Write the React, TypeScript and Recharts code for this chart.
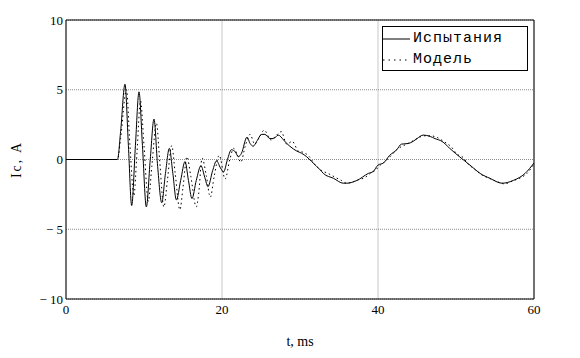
import React from "react";
import { LineChart, Line, XAxis, YAxis, CartesianGrid, ReferenceArea, Label } from "recharts";

const xTicks = [0, 20, 40, 60];
const yTicks = [-10, -5, 0, 5, 10];
const seriesNames = ["Испытания", "Модель"];

const testT = [0, 6.6, 7.0, 7.56, 8.0, 8.42, 8.9, 9.36, 9.8, 10.3, 10.8, 11.28, 11.75, 12.27, 12.75, 13.25, 13.7, 14.15, 14.7, 15.26, 15.7, 16.15, 16.7, 17.3, 17.8, 18.2, 18.8, 19.3, 19.8, 20.2, 20.7, 21.2, 21.7, 22.1, 22.5, 23.2, 23.6, 24.0, 24.45, 25.1, 25.5, 26.15, 26.6, 27.2, 27.9, 28.3, 28.7, 29.6, 30.2, 30.85, 31.5, 32.6, 33.0, 34.3, 35.55, 36.0, 37.3, 38.75, 39.4, 40.0, 40.7, 41.5, 42.4, 43.0, 43.9, 44.5, 45.0, 45.8, 46.7, 47.3, 48.2, 49.2, 49.9, 50.9, 52.0, 53.1, 54.35, 55.9, 57.35, 58.85, 60];
const testI = [0, 0, 2.0, 5.4, 1.0, -3.3, 1.0, 4.85, 1.0, -3.4, 0, 2.9, -0.5, -3.1, -1.0, 0.8, -1.0, -2.9, -1.5, -0.15, -1.5, -2.8, -1.5, -0.45, -1.3, -1.95, -0.8, -0.1, -0.6, -0.9, 0.0, 0.7, 0.55, 0.2, 0.45, 1.6, 1.15, 0.95, 1.3, 1.8, 1.8, 1.5, 1.5, 1.75, 1.4, 1.15, 0.95, 0.6, 0.45, 0.2, -0.15, -0.75, -1.0, -1.35, -1.7, -1.7, -1.5, -1.0, -0.85, -0.4, -0.25, 0.3, 0.7, 1.1, 1.15, 1.3, 1.5, 1.75, 1.65, 1.5, 1.3, 0.8, 0.45, 0.0, -0.5, -1.0, -1.35, -1.7, -1.5, -1.0, -0.25];

const modelT = [0, 6.6, 7.0, 7.75, 8.2, 8.7, 9.1, 9.55, 10.0, 10.55, 11.0, 11.6, 12.0, 12.55, 13.0, 13.55, 14.0, 14.6, 15.0, 15.5, 16.0, 16.7, 17.0, 17.45, 18.0, 18.5, 19.0, 19.65, 20.4, 21.0, 21.5, 22.0, 22.4, 23.0, 23.6, 24.2, 24.8, 25.4, 26.3, 26.9, 27.6, 28.3, 29.0, 29.8, 30.5, 31.2, 31.8, 32.8, 33.6, 34.6, 35.3, 36.0, 36.8, 37.5, 38.3, 39.0, 39.6, 40.3, 41.0, 41.8, 42.5, 43.3, 44.2, 45.0, 45.9, 46.7, 47.5, 48.4, 49.4, 50.1, 51.0, 51.5, 52.3, 53.3, 54.5, 55.6, 56.2, 57.2, 58.3, 59.1, 60];
const modelI = [0, 0, 1.5, 5.0, 1.0, -2.6, 0.5, 4.2, 1.0, -3.0, -0.5, 2.6, 0, -3.4, -1.5, 1.0, -1.0, -3.6, -2.0, 0.2, -1.2, -3.4, -2.5, 0.1, -1.2, -2.7, -1.2, 0.3, -1.4, 0.0, 0.8, 0.3, -0.2, 1.0, 1.8, 1.1, 1.6, 2.1, 1.4, 1.7, 2.0, 1.1, 1.3, 0.6, 0.5, 0.2, -0.3, -0.8, -1.0, -1.3, -1.5, -1.7, -1.6, -1.45, -1.3, -1.0, -0.8, -0.4, -0.1, 0.35, 0.75, 1.0, 1.25, 1.5, 1.7, 1.7, 1.6, 1.3, 0.9, 0.4, 0.1, -0.3, -0.65, -1.1, -1.4, -1.65, -1.75, -1.55, -1.3, -1.0, -0.3];

const testData = testT.map((t, i) => ({ t, v: testI[i] }));
const modelData = modelT.map((t, i) => ({ t, v: modelI[i] }));

const fmtY = (v: number) => (v < 0 ? "\u2212 " + Math.abs(v) : String(v));

const SERIF = "'Liberation Serif', 'Times New Roman', serif";
const MONO = "'Liberation Mono', 'DejaVu Sans Mono', monospace";

const LegendBox = () => (
  <div
    style={{
      position: "absolute",
      left: 382,
      top: 26,
      border: "1px solid #000",
      background: "#fff",
      width: 146,
      height: 45,
      fontFamily: MONO,
      fontSize: 15,
      letterSpacing: 1,
      color: "#000",
      boxSizing: "border-box",
    }}
  >
    {seriesNames.map((n, i) => (
      <div key={n} style={{ display: "flex", alignItems: "center", height: 21, marginTop: i === 0 ? 1 : 0 }}>
        <svg width={28} height={10} style={{ display: "block" }}>
          <line
            x1={0}
            y1={5}
            x2={27}
            y2={5}
            stroke="#000"
            strokeWidth={1}
            strokeDasharray={i === 1 ? "1.5 4" : undefined}
          />
        </svg>
        <span style={{ marginLeft: 2, lineHeight: "21px" }}>{n}</span>
      </div>
    ))}
  </div>
);

export default function App() {
  return (
    <div style={{ position: "absolute", left: 0, top: 0, width: 580, height: 358, background: "#fff" }}>
      <LineChart width={580} height={358} margin={{ top: 20, right: 46, left: 0, bottom: 0 }} style={{ fontFamily: SERIF }}>
        <CartesianGrid horizontal={false} stroke="#c8c8c8" strokeWidth={1} />
        <CartesianGrid vertical={false} stroke="#8c8c8c" strokeDasharray="1 1" strokeWidth={1} />
        <XAxis
          type="number"
          dataKey="t"
          domain={[0, 60]}
          ticks={xTicks}
          height={59}
          tickSize={0}
          tickMargin={6}
          axisLine={false}
          fontFamily={SERIF}
          fontSize={13}
          tick={{ fontFamily: SERIF, fontSize: 13, fill: "#000" }}
          allowDataOverflow
        >
          <Label value="t, ms" position="insideBottom" offset={12} style={{ fontFamily: SERIF, fontSize: 14, fill: "#000" }} />
        </XAxis>
        <YAxis
          type="number"
          domain={[-10, 10]}
          ticks={yTicks}
          width={66}
          tickSize={0}
          tickMargin={3}
          axisLine={false}
          tickFormatter={fmtY}
          fontFamily={SERIF}
          fontSize={13}
          tick={{ fontFamily: SERIF, fontSize: 13, fill: "#000" }}
          allowDataOverflow
        >
          <Label
            value="Ic, A"
            angle={-90}
            position="insideLeft"
            offset={16}
            style={{ fontFamily: SERIF, fontSize: 14, fill: "#000", textAnchor: "middle", letterSpacing: 2 }}
          />
        </YAxis>
        <ReferenceArea x1={0} x2={60} y1={-10} y2={10} fill="none" stroke="#000" strokeWidth={1} ifOverflow="visible" />
        <Line
          data={testData}
          dataKey="v"
          name={seriesNames[0]}
          type="monotone"
          stroke="#000"
          strokeWidth={1}
          dot={false}
          isAnimationActive={false}
        />
        <Line
          data={modelData}
          dataKey="v"
          name={seriesNames[1]}
          type="monotone"
          stroke="#000"
          strokeWidth={1}
          strokeDasharray="1.5 3"
          dot={false}
          isAnimationActive={false}
        />
      </LineChart>
      <LegendBox />
    </div>
  );
}
